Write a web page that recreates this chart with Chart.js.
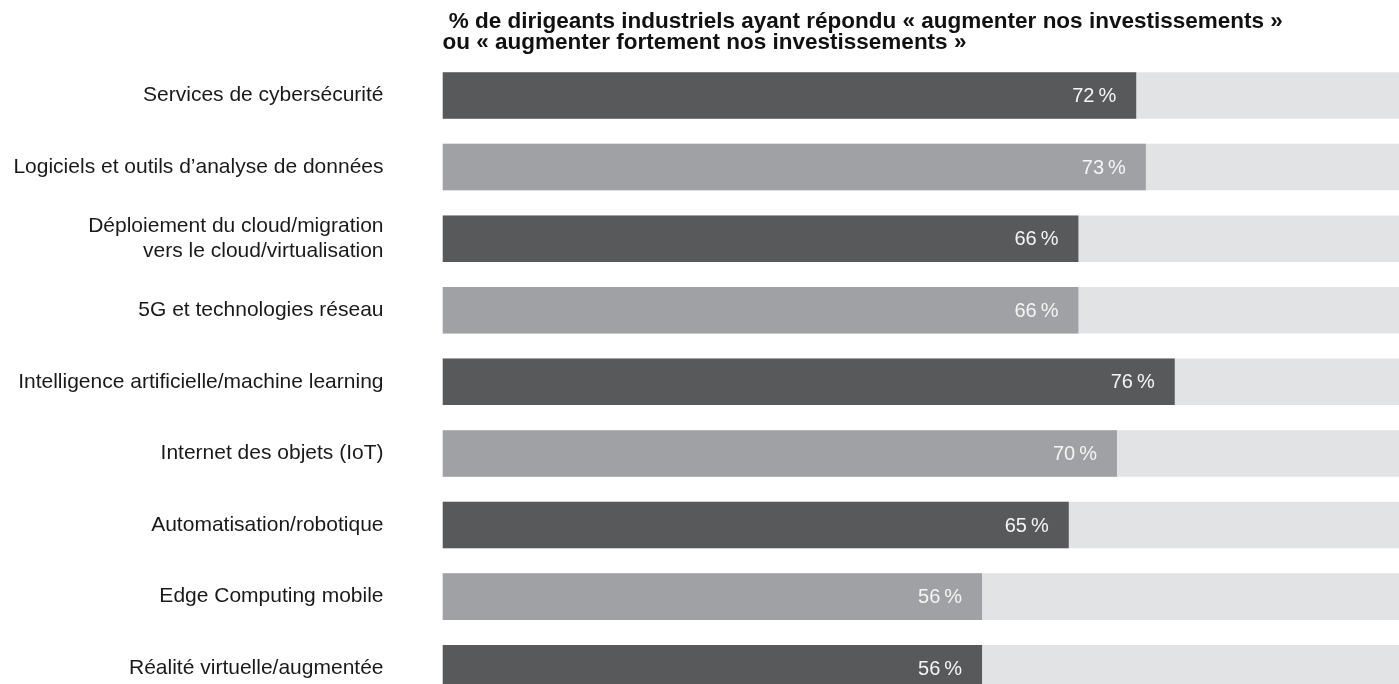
<!DOCTYPE html>
<html>
<head>
<meta charset="utf-8">
<script src="https://cdn.jsdelivr.net/npm/chart.js@4/dist/chart.umd.min.js"></script>
<style>
  html, body { margin: 0; padding: 0; overflow: hidden; background: #fff; }
  #wrap { width: 1399px; height: 684px; overflow: hidden; }
</style>
</head>
<body>
<div id="wrap">
  <canvas id="investChart" width="1406" height="704"></canvas>
</div>
<script>
// categories and values
const categories = [
    'Services de cybersécurité',
    'Logiciels et outils d’analyse de données',
    ['Déploiement du cloud/migration', 'vers le cloud/virtualisation'],
    '5G et technologies réseau',
    'Intelligence artificielle/machine learning',
    'Internet des objets (IoT)',
    'Automatisation/robotique',
    'Edge Computing mobile',
    'Réalité virtuelle/augmentée'
];
const values = [72, 73, 66, 66, 76, 70, 65, 56, 56];
const track = [100, 100, 100, 100, 100, 100, 100, 100, 100];
const titleLines = [
    ' % de dirigeants industriels ayant répondu « augmenter nos investissements »',
    'ou « augmenter fortement nos investissements »'
];

const dark = '#58595b';
const light = '#a0a1a4';
const barColors = values.map((v, i) => i % 2 === 0 ? dark : light);

// draws the "72 %" labels at the end of each bar
const valueLabels = {
    id: 'valueLabels',
    afterDatasetsDraw(chart) {
        const ctx = chart.ctx;
        const meta = chart.getDatasetMeta(0);
        ctx.save();
        ctx.font = '20px "Liberation Sans", Arial, sans-serif';
        ctx.fillStyle = '#f5f5f5';
        ctx.textAlign = 'right';
        ctx.textBaseline = 'middle';
        meta.data.forEach((bar, i) => {
            ctx.fillText(values[i] + '\u2009%', bar.x - 20, bar.y + 1);
        });
        ctx.restore();
    }
};

const ctx = document.getElementById('investChart').getContext('2d');
new Chart(ctx, {
    type: 'bar',
    data: {
        labels: categories,
        datasets: [{
            data: values,
            backgroundColor: barColors,
            grouped: false,
            order: 0,
            barPercentage: 0.65,
            categoryPercentage: 1
        }, {
            data: track,
            backgroundColor: '#e2e3e4',
            grouped: false,
            order: 1,
            barPercentage: 0.65,
            categoryPercentage: 1
        }]
    },
    options: {
        indexAxis: 'y',
        responsive: false,
        animation: false,
        devicePixelRatio: 1,
        layout: { padding: 0 },
        plugins: {
            legend: { display: false },
            tooltip: { enabled: false },
            title: {
                display: true,
                text: titleLines,
                align: 'start',
                fullSize: false,
                color: '#111',
                font: { family: '"Liberation Sans", Arial, sans-serif', size: 22.5, weight: 'bold', lineHeight: '21px' },
                padding: { top: 11, bottom: 6.7 }
            }
        },
        scales: {
            x: {
                display: false,
                min: 0,
                max: 100
            },
            y: {
                grid: { display: false, drawTicks: false },
                border: { display: false },
                ticks: {
                    color: '#1a1a1a',
                    padding: 59,
                    font: { family: '"Liberation Sans", Arial, sans-serif', size: 21, lineHeight: 1.19 }
                },
                afterFit(scale) {
                    scale.width = 442.5;
                    scale.paddingTop = 0;
                    scale.paddingBottom = 0;
                }
            }
        }
    },
    plugins: [valueLabels]
});
</script>
</body>
</html>
